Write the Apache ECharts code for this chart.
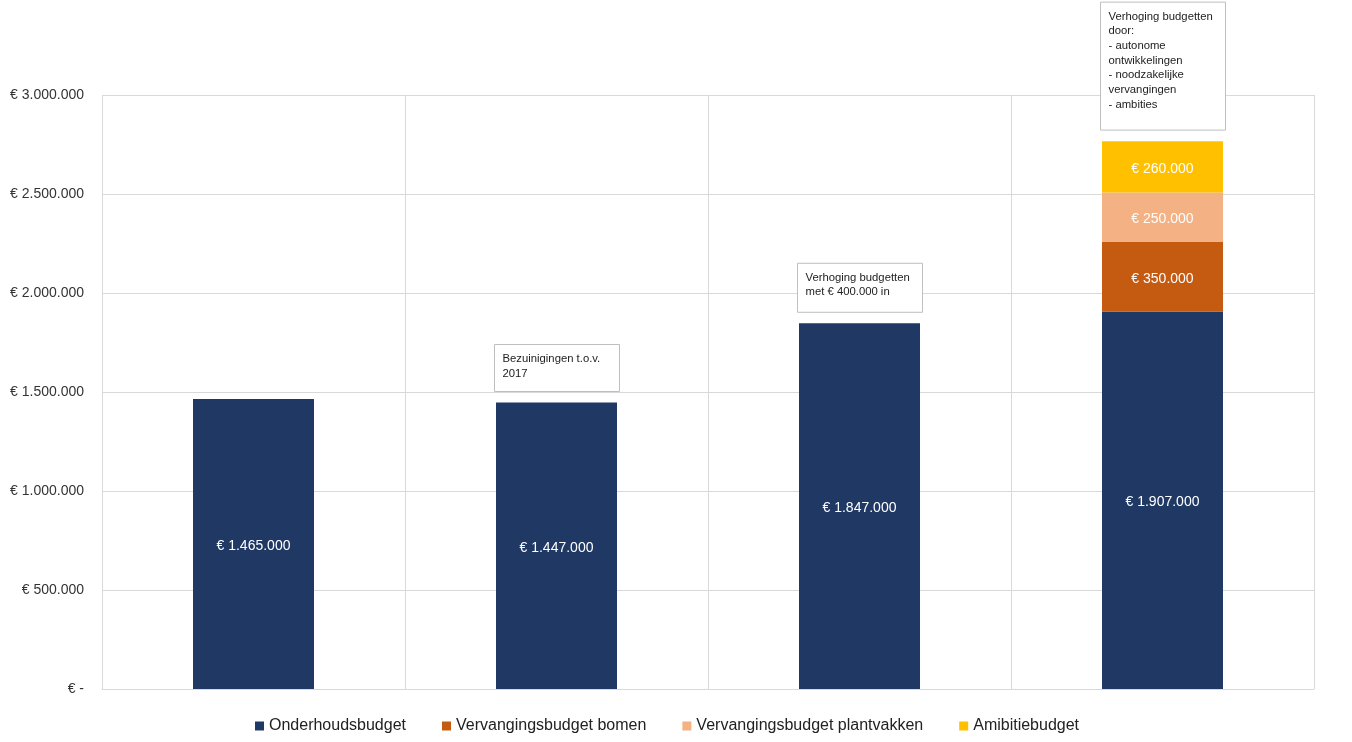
<!DOCTYPE html>
<html>
<head>
<meta charset="utf-8">
<script src="https://cdn.jsdelivr.net/npm/echarts@6/dist/echarts.min.js"></script>
<style>html,body{margin:0;padding:0;background:#fff;}#c{width:1352px;height:742px;}</style>
</head>
<body>
<div id="c"></div>
<script>
var categories = ['2017', '2018', '2019', '2020'];
var onderhoud = [1465000, 1447000, 1847000, 1907000];
var bomen = [null, null, null, 350000];
var plantvakken = [null, null, null, 250000];
var ambitie = [null, null, null, 260000];
var seriesNames = ['Onderhoudsbudget', 'Vervangingsbudget bomen', 'Vervangingsbudget plantvakken', 'Amibitiebudget'];
var yTicks = [0, 500000, 1000000, 1500000, 2000000, 2500000, 3000000];
var annotations = [
  { cat: 1, text: 'Bezuinigingen t.o.v.\n2017', h: 47 },
  { cat: 2, text: 'Verhoging budgetten\nmet € 400.000 in', h: 49 },
  { cat: 3, text: 'Verhoging budgetten\ndoor:\n- autonome\nontwikkelingen\n- noodzakelijke\nvervangingen\n- ambities', h: 128 }
];

var FONT = 'Liberation Sans';
function euro(v) {
  if (!v) return '€ -';
  return '€ ' + String(v).replace(/\B(?=(\d{3})+(?!\d))/g, '.');
}
var chart = echarts.init(document.getElementById('c'));
function lbl(size) {
  return { show: true, position: 'inside', offset: [0, 2], color: '#fff', fontSize: size, fontFamily: FONT,
    formatter: function (p) { return p.value ? euro(p.value) : ''; } };
}
var option = {
  animation: false,
  textStyle: { fontFamily: FONT },
  grid: { left: 102, right: 38, top: 95, bottom: 53, containLabel: false },
  legend: {
    bottom: 3, left: 250, icon: 'rect', itemWidth: 9, itemHeight: 9, itemGap: 36,
    textStyle: { fontSize: 16, color: '#222', fontFamily: FONT },
    data: seriesNames
  },
  xAxis: {
    type: 'category', data: categories, boundaryGap: true,
    axisTick: { show: false }, axisLabel: { show: false },
    axisLine: { lineStyle: { color: '#d9d9d9' } },
    splitLine: { show: true, lineStyle: { color: '#d9d9d9' } }
  },
  yAxis: {
    type: 'value', min: 0, max: 3000000, interval: 500000,
    axisLine: { show: false }, axisTick: { show: false },
    axisLabel: { fontSize: 14, color: '#333', margin: 18, fontFamily: FONT, formatter: euro },
    splitLine: { lineStyle: { color: '#d9d9d9' } }
  },
  series: [
    { name: seriesNames[0], type: 'bar', stack: 't', data: onderhoud, barWidth: 121, itemStyle: { color: '#203864' }, label: lbl(14) },
    { name: seriesNames[1], type: 'bar', stack: 't', data: bomen, itemStyle: { color: '#C55A11' }, label: lbl(14) },
    { name: seriesNames[2], type: 'bar', stack: 't', data: plantvakken, itemStyle: { color: '#F4B183' }, label: lbl(14) },
    { name: seriesNames[3], type: 'bar', stack: 't', data: ambitie, itemStyle: { color: '#FFC000' }, label: lbl(14) }
  ]
};
chart.setOption(option);

function totalAt(i) {
  return [onderhoud, bomen, plantvakken, ambitie].reduce(function (s, a) { return s + (a[i] || 0); }, 0);
}
var graphics = annotations.map(function (a) {
  var p = chart.convertToPixel({ seriesIndex: 0 }, [a.cat, totalAt(a.cat)]);
  var left = p[0] - 62, bottom = p[1] - 11, w = 125;
  return {
    type: 'group', x: left, y: bottom - a.h,
    children: [
      { type: 'rect', shape: { x: 0, y: 0, width: w, height: a.h }, style: { fill: '#fff', stroke: '#bfbfbf', lineWidth: 1 } },
      { type: 'text', x: 8, y: 7, style: { text: a.text, fontSize: 11.3, lineHeight: 14.7, fill: '#222', fontFamily: FONT } }
    ]
  };
});
chart.setOption({ graphic: graphics });
</script>
</body>
</html>
